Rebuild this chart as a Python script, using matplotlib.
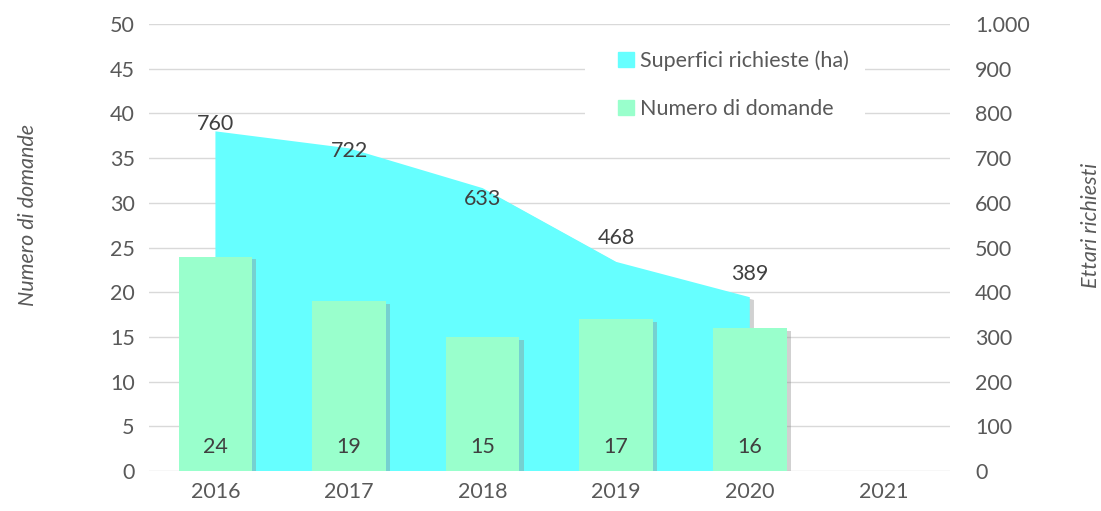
import matplotlib.pyplot as plt
import matplotlib.patheffects as pe
from matplotlib.patches import Rectangle
from matplotlib.ticker import FuncFormatter

# data
anni = ['2016', '2017', '2018', '2019', '2020', '2021']
domande = [24, 19, 15, 17, 16]
ettari = [760, 722, 633, 468, 389]

plt.rcParams['font.family'] = ['Lato', 'DejaVu Sans']
grigio = '#595959'
fs = 15.5

fig = plt.figure(figsize=(11.01, 5.11), dpi=100)
ax2 = fig.add_axes([0.135, 0.078, 0.728, 0.875])   # ettari (dietro)
ax = ax2.twinx()                                     # domande (davanti)
ax.set_zorder(ax2.get_zorder() + 1)
ax.patch.set_visible(False)

x = list(range(len(anni)))
xd = x[:len(domande)]

shadow = [pe.SimplePatchShadow(offset=(3, -2), shadow_rgbFace='#8c8c8c', alpha=0.4), pe.Normal()]

# area ettari
area = ax2.fill_between(xd, ettari, 0, color='#66FFFF', lw=0, zorder=2)
area.set_path_effects(shadow)
offs = [5, -2, -8, 17, 17]
for xi, v, o in zip(xd, ettari, offs):
    ax2.annotate(str(v), (xi, v), xytext=(0, o), textcoords='offset points',
                 ha='center', va='center', fontsize=fs, color='#404040', zorder=5)

# barre domande
bars = ax.bar(xd, domande, width=0.55, color='#99FFCC', zorder=3)
for b in bars:
    b.set_path_effects(shadow)
for xi, v in zip(xd, domande):
    ax.text(xi, 2.7, str(v), ha='center', va='center', fontsize=fs, color='#404040')

# assi
ax.set_xlim(-0.5, len(anni) - 0.5)
ax.set_ylim(0, 50)
ax2.set_ylim(0, 1000)
ax.set_yticks(range(0, 51, 5))
ax2.set_yticks(range(0, 1001, 100))
ax2.yaxis.set_major_formatter(FuncFormatter(lambda v, p: f'{int(v):,}'.replace(',', '.')))
ax2.set_xticks(x)
ax2.set_xticklabels(anni)

ax.yaxis.tick_left()
ax.yaxis.set_label_position('left')
ax2.yaxis.tick_right()
ax2.yaxis.set_label_position('right')

ax2.grid(axis='y', color='#D9D9D9', lw=1, zorder=0)
ax2.set_axisbelow(True)
for a in (ax, ax2):
    for s in a.spines.values():
        s.set_visible(False)
    a.tick_params(length=0, labelsize=fs, labelcolor=grigio)
ax.tick_params(axis='y', pad=10)
ax2.tick_params(axis='y', pad=18)
ax2.tick_params(axis='x', pad=8)

ax.set_ylabel('Numero di domande', fontsize=fs, style='italic', color=grigio)
ax2.set_ylabel('Ettari richiesti', fontsize=fs, style='italic', color=grigio)
ax.yaxis.set_label_coords(-0.138, 0.573)
ax2.yaxis.set_label_coords(1.163, 0.55)

# legenda su fondo bianco
ax.add_patch(Rectangle((0.544, 0.763), 0.35, 0.212, transform=ax.transAxes,
                       facecolor='white', edgecolor='none', zorder=4))
hs = [Rectangle((0, 0), 1, 1, color='#66FFFF'), Rectangle((0, 0), 1, 1, color='#99FFCC')]
leg = ax.legend(hs, ['Superfici richieste (ha)', 'Numero di domande'],
                loc='upper left', bbox_to_anchor=(0.562, 0.985),
                fontsize=fs, frameon=False, handlelength=0.7, handleheight=0.7,
                handletextpad=0.3, labelspacing=1.3, borderpad=0.4)
leg.set_zorder(5)
for t in leg.get_texts():
    t.set_color(grigio)

fig.savefig('out.png', dpi=100)
